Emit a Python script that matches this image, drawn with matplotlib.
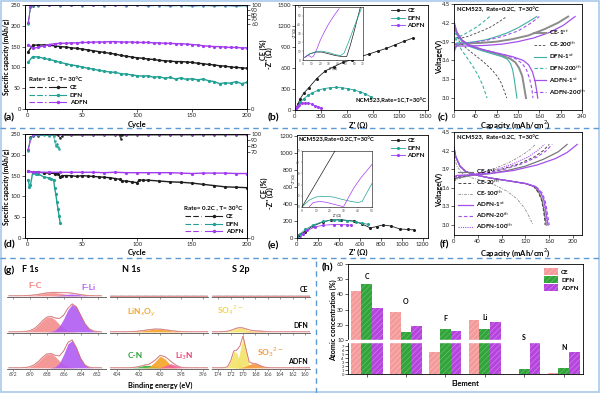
import numpy as np
import matplotlib
matplotlib.use('Agg')
import matplotlib.pyplot as plt
from matplotlib.lines import Line2D
from matplotlib.patches import Patch, Rectangle
from matplotlib.legend_handler import HandlerTuple

plt.rcParams['font.family'] = ['Lato', 'DejaVu Sans']
plt.rcParams['mathtext.fontset'] = 'dejavusans'
plt.rcParams['hatch.linewidth'] = 0.4
plt.rcParams['axes.linewidth'] = 0.6

W, H = 600, 393
BLACK, TEAL, PURPLE = '#1e1e1e', '#22a195', '#a33cf0'

# ---------------- (a) cycling, 1C ----------------
cyc_a = [1] + list(range(5, 201, 5))
cap_a_ce = [138, 153, 154, 154, 153, 152, 150, 149, 147, 146, 144, 142, 140, 138, 136, 134, 132,
            129, 127, 125, 123, 122, 120, 119, 117, 116, 115, 114, 114, 113, 112, 110, 109, 107,
            106, 104, 103, 101, 100, 99, 98]
cap_a_dfn = [113, 126, 125, 122, 119, 116, 112, 109, 106, 104, 101, 98, 96, 93, 91, 89, 88, 85,
             84, 82, 80, 79, 80, 76, 78, 74, 76, 72, 75, 71, 73, 70, 72, 68, 66, 61, 63, 62, 66,
             61, 64]
cap_a_adfn = [155, 146, 148, 152, 155, 157, 158, 158, 159, 159, 160, 160, 161, 161, 161, 162, 162,
              161, 161, 161, 160, 160, 160, 159, 159, 158, 158, 157, 157, 156, 155, 154, 152, 151,
              150, 150, 149, 148, 148, 147, 147]
cyc_ce_a = [1, 3, 5] + list(range(10, 201, 10))
ce_a_ce = [62, 96, 98.5, 99.0, 99.2, 99.3, 99.2, 99.4, 99.3, 99.4, 99.3, 99.5, 99.4, 99.3, 99.5,
           99.4, 99.5, 99.4, 99.5, 99.4, 99.5, 99.4, 99.5]
ce_a_dfn = [60, 95, 98, 98.8, 99.0, 98.7, 99.1, 98.8, 99.2, 98.7, 99.0, 98.5, 99.2, 98.0, 98.9,
            97.6, 98.8, 97.2, 98.6, 97.5, 98.4, 97.0, 98.2]
ce_a_adfn = [64, 97, 99.2, 99.6, 99.7, 99.7, 99.8, 99.7, 99.8, 99.8, 99.7, 99.8, 99.8, 99.7, 99.8,
             99.8, 99.7, 99.8, 99.8, 99.7, 99.8, 99.8, 99.8]

# ---------------- (d) cycling, 0.2C ----------------
cyc_d_ce = [1, 5, 10, 15, 20, 25, 28, 30, 32, 35, 40, 45, 50, 55, 60, 65, 70, 75, 80, 84, 86, 90,
            95, 100, 102, 105, 110, 120, 130, 140, 150, 160, 170, 180, 190, 200]
cap_d_ce = [160, 159, 158, 157, 156, 155, 154, 147, 150, 150, 150, 148, 150, 149, 148, 147, 146,
            145, 143, 141, 137, 137, 135, 133, 140, 139, 139, 137, 135, 134, 132, 129, 126, 123,
            122, 121]
cyc_d_dfn = [1, 2, 3, 5, 8, 10, 15, 20, 22, 24, 25, 26, 27, 28, 29, 30]
cap_d_dfn = [140, 122, 128, 157, 155, 154, 147, 144, 142, 140, 120, 106, 87, 70, 53, 36]
cyc_d_adfn = [1, 5] + list(range(10, 201, 10))
cap_d_adfn = [160, 159, 158, 158, 158, 158, 158, 158, 157, 158, 157, 157, 157, 157, 157, 156, 155,
              156, 156, 156, 155, 155]
cyc_ce_d_ce = [1, 3, 5, 10, 20, 28, 30, 32, 40, 50, 60, 70, 80, 84, 85, 86, 90, 100, 110, 120, 130,
               140, 150, 160, 170, 180, 190, 200]
ce_d_ce = [74, 95, 97, 97.4, 97.6, 97.7, 93, 97.5, 97.7, 97.8, 97.9, 97.9, 98, 97.8, 92, 97.6,
           97.9, 98, 98.1, 98.1, 98.2, 98.2, 98.2, 98.3, 98.3, 98.3, 98.4, 98.4]
cyc_ce_d_dfn = [1, 3, 5, 10, 15, 20, 24, 25, 26, 27, 28, 29]
ce_d_dfn = [72, 94, 97, 97.6, 97.7, 97.5, 97.2, 88, 80, 84, 79, 76]
ce_d_adfn = [76, 98.5, 99.3, 99.5, 99.6, 99.6, 99.6, 99.7, 99.6, 99.7, 99.7, 99.6, 99.7, 99.7,
             99.7, 99.6, 99.7, 99.7, 99.7, 99.7, 99.7, 99.7]

# ---------------- (b) EIS 1C ----------------
zre_b_ce = [5, 30, 60, 100, 160, 250, 350, 450, 550, 650, 750, 850, 950, 1050, 1150, 1250, 1360]
zim_b_ce = [0, 80, 160, 240, 320, 450, 560, 620, 680, 720, 760, 800, 840, 880, 930, 980, 1030]
zre_b_dfn = [10, 30, 60, 100, 150, 200, 260, 330, 400, 470, 540, 610, 680, 750, 810, 870]
zim_b_dfn = [0, 60, 110, 160, 210, 245, 280, 305, 318, 322, 318, 305, 285, 260, 230, 190]
zre_b_adfn = [10, 25, 50, 80, 110, 150, 190, 230, 270, 300]
zim_b_adfn = [0, 40, 75, 95, 102, 100, 85, 62, 40, 28]
inb_ce_x = [2, 8, 15, 22, 30, 38, 45, 51, 55, 59, 63, 67]
inb_ce_y = [3, 7, 9, 9, 7, 5, 4, 4, 16, 30, 45, 60]
inb_dfn_x = [2, 8, 15, 22, 30, 38, 44, 48, 53, 58, 63, 68]
inb_dfn_y = [3, 7, 9.5, 10, 8.5, 6, 5, 8, 20, 33, 46, 58]
inb_adfn_x = [2, 5, 8, 10, 12, 16, 20, 25, 30, 36, 42]
inb_adfn_y = [3, 5, 4.5, 3, 4, 12, 22, 32, 41, 50, 58]

# ---------------- (e) EIS 0.2C ----------------
zre_e_ce = [0, 20, 74, 150, 250, 325, 420, 540, 620, 700, 760, 820, 900, 980, 1060, 1120]
zim_e_ce = [0, 35, 75, 140, 190, 212, 214, 200, 165, 118, 135, 153, 140, 106, 100, 95]
zre_e_dfn = [0, 30, 80, 150, 250, 350, 400, 480, 560, 620, 680]
zim_e_dfn = [0, 50, 100, 150, 195, 212, 214, 205, 190, 175, 160]
zre_e_adfn = [30, 60, 100, 170, 250, 350, 420, 480, 520]
zim_e_adfn = [0, 50, 90, 130, 150, 158, 158, 155, 150]
ine_ce_x = [0, 8, 16, 24]
ine_ce_y = [0, 17, 34, 51]
ine_dfn_x = [0, 5, 10, 16, 22, 28, 35, 40, 43, 46, 50]
ine_dfn_y = [0, 6, 9, 9.5, 9, 7, 5, 4, 5, 12, 21]
ine_adfn_x = [5, 8, 13, 18, 24, 29, 30, 33, 37, 42, 50]
ine_adfn_y = [0, 4, 5, 4, 2, 0.5, 1, 8, 17, 26, 38]

# ---------------- (c) charge / discharge ----------------
c_ce1_dq = [0, 5, 15, 30, 50, 70, 90, 105, 115, 122, 128, 132, 135]
c_ce1_dv = [4.2, 4.05, 3.92, 3.84, 3.78, 3.73, 3.68, 3.63, 3.57, 3.48, 3.35, 3.15, 3.0]
c_ce1_cq = [0, 5, 20, 50, 80, 110, 140, 170, 195, 214]
c_ce1_cv = [3.75, 3.85, 3.87, 3.88, 3.9, 3.94, 4.0, 4.1, 4.2, 4.3]
c_ce200_dq = [0, 10, 25, 40, 55, 70, 80, 88, 94, 99]
c_ce200_dv = [4.1, 3.9, 3.78, 3.68, 3.58, 3.46, 3.36, 3.25, 3.12, 3.0]
c_ce200_cq = [0, 10, 25, 40, 55, 70, 85, 99]
c_ce200_cv = [3.92, 3.95, 3.98, 4.03, 4.08, 4.14, 4.22, 4.3]
c_dfn1_dq = [0, 5, 15, 30, 50, 70, 90, 100, 106, 110, 113, 116, 118]
c_dfn1_dv = [4.2, 4.02, 3.9, 3.82, 3.76, 3.71, 3.66, 3.62, 3.55, 3.45, 3.3, 3.12, 3.0]
c_dfn1_cq = [0, 5, 20, 40, 60, 80, 100, 120, 140, 155]
c_dfn1_cv = [3.85, 3.88, 3.88, 3.9, 3.93, 3.98, 4.04, 4.12, 4.22, 4.3]
c_dfn200_dq = [0, 8, 18, 28, 38, 46, 53, 58, 62]
c_dfn200_dv = [4.05, 3.85, 3.72, 3.6, 3.47, 3.35, 3.22, 3.1, 3.0]
c_dfn200_cq = [0, 10, 20, 30, 40, 50, 60, 67]
c_dfn200_cv = [3.95, 3.98, 4.02, 4.07, 4.12, 4.18, 4.25, 4.3]
c_adfn1_dq = [0, 5, 15, 30, 50, 70, 90, 110, 130, 140, 147, 152, 155, 157]
c_adfn1_dv = [4.2, 4.05, 3.92, 3.84, 3.78, 3.74, 3.7, 3.66, 3.6, 3.53, 3.42, 3.27, 3.12, 3.0]
c_adfn1_cq = [0, 5, 30, 60, 90, 120, 150, 180, 205, 227]
c_adfn1_cv = [3.8, 3.83, 3.83, 3.84, 3.86, 3.9, 3.96, 4.05, 4.16, 4.3]
c_adfn200_dq = [0, 10, 25, 45, 70, 95, 115, 128, 136, 142, 146, 148]
c_adfn200_dv = [4.15, 3.95, 3.85, 3.79, 3.74, 3.69, 3.63, 3.55, 3.45, 3.3, 3.15, 3.0]
c_adfn200_cq = [0, 10, 30, 60, 90, 120, 145, 160]
c_adfn200_cv = [3.85, 3.87, 3.88, 3.92, 3.98, 4.07, 4.2, 4.3]

# ---------------- (f) charge / discharge ----------------
f_dv = [4.25, 4.1, 3.95, 3.86, 3.8, 3.76, 3.73, 3.7, 3.67, 3.62, 3.52, 3.4, 3.25, 3.12, 3.0]
f_ce1_dq = [0, 3, 10, 20, 40, 60, 80, 100, 120, 135, 143, 148, 151, 153, 155]
f_ce20_dq = [0, 3, 10, 20, 40, 60, 80, 100, 120, 134, 142, 147, 150, 152, 153]
f_adfn1_dq = [0, 3, 10, 20, 40, 60, 80, 100, 120, 137, 146, 151, 154, 156, 158]
f_adfn20_dq = [0, 3, 10, 20, 40, 60, 80, 100, 120, 138, 148, 153, 156, 158, 160]
f_adfn100_dq = [0, 3, 10, 20, 40, 60, 80, 100, 120, 137, 146, 151, 153, 155, 157]
f_ce100_dq = [0, 5, 15, 30, 50, 70, 90, 106, 118, 126, 133]
f_ce100_dv = [4.1, 3.95, 3.82, 3.76, 3.71, 3.64, 3.54, 3.42, 3.28, 3.14, 3.0]
f_ce1_cq = [0, 5, 30, 60, 90, 120, 150, 175, 190]
f_ce1_cv = [3.72, 3.76, 3.8, 3.83, 3.88, 3.95, 4.06, 4.18, 4.3]
f_ce20_cq = [0, 5, 25, 50, 80, 110, 135, 150, 160]
f_ce20_cv = [3.74, 3.77, 3.8, 3.84, 3.9, 3.99, 4.1, 4.2, 4.3]
f_ce100_cq = [0, 5, 20, 45, 70, 95, 115, 128, 137]
f_ce100_cv = [3.7, 3.74, 3.78, 3.84, 3.92, 4.02, 4.13, 4.22, 4.3]
f_adfn1_cq = [0, 5, 30, 60, 100, 140, 170, 190, 207]
f_adfn1_cv = [3.78, 3.8, 3.81, 3.83, 3.88, 3.97, 4.07, 4.17, 4.3]
f_adfn20_cq = [0, 5, 25, 55, 85, 115, 140, 155, 165]
f_adfn20_cv = [3.77, 3.79, 3.8, 3.84, 3.9, 3.99, 4.1, 4.2, 4.3]
f_adfn100_cq = [0, 5, 20, 45, 75, 100, 125, 140, 152]
f_adfn100_cv = [3.76, 3.78, 3.8, 3.84, 3.91, 3.99, 4.1, 4.2, 4.3]

# ---------------- (g) XPS ----------------
be_f = [692.5, 692, 691.5, 691, 690.5, 690, 689.5, 689, 688.5, 688, 687.5, 687, 686.5, 686,
        685.5, 685, 684.5, 684, 683.5, 683, 682.5, 682, 681.5]
fc_ce = [0, 0, 0, 0.002, 0.005, 0.014, 0.029, 0.05, 0.078, 0.104, 0.119, 0.117, 0.099, 0.073,
         0.046, 0.026, 0.012, 0.005, 0, 0, 0, 0, 0]
fli_ce = [0] * 11 + [0.006, 0.018, 0.038, 0.06, 0.07, 0.06, 0.038, 0.018, 0.006, 0.001, 0, 0]
fc_dfn = [0, 0, 0, 0.002, 0.011, 0.039, 0.109, 0.237, 0.4, 0.526, 0.539, 0.43, 0.268, 0.13,
          0.049, 0.014, 0.003, 0.001, 0, 0, 0, 0, 0]
fli_dfn = [0] * 10 + [0.015, 0.066, 0.21, 0.47, 0.8, 0.99, 0.9, 0.6, 0.3, 0.11, 0.03, 0.005, 0]
fc_adfn = [0, 0, 0, 0.002, 0.01, 0.037, 0.103, 0.224, 0.378, 0.497, 0.51, 0.407, 0.253, 0.123,
           0.046, 0.013, 0.003, 0.001, 0, 0, 0, 0, 0]
fli_adfn = [0] * 10 + [0.006, 0.04, 0.175, 0.487, 0.868, 0.991, 0.726, 0.341, 0.103, 0.02,
                       0.002, 0, 0]
be_n = [405, 404.5, 404, 403.5, 403, 402.5, 402, 401.5, 401, 400.5, 400, 399.5, 399, 398.5, 398,
        397.5, 397, 396.5, 396, 395.5]
lno_dfn = [0, 0, 0, 0, 0.003, 0.009, 0.024, 0.049, 0.078, 0.098, 0.096, 0.073, 0.043, 0.02,
           0.007, 0.002, 0, 0, 0, 0]
cn_adfn = [0, 0, 0, 0, 0.001, 0.01, 0.041, 0.088, 0.095, 0.051, 0.014, 0.002, 0, 0, 0, 0, 0, 0,
           0, 0]
lno_adfn = [0] * 7 + [0.003, 0.038, 0.209, 0.421, 0.312, 0.085, 0.009, 0, 0, 0, 0, 0, 0]
li3n_adfn = [0] * 9 + [0.001, 0.013, 0.081, 0.15, 0.081, 0.013, 0.001, 0, 0, 0, 0]
be_s = [175, 174.5, 174, 173.5, 173, 172.5, 172, 171.5, 171, 170.5, 170, 169.5, 169, 168.5, 168,
        167.5, 167, 166.5, 166, 165.5, 165, 164.5, 164, 163.5, 163, 162.5, 162, 161.5, 161,
        160.5, 160, 159.5, 159]
so4_dfn = [0, 0, 0, 0.002, 0.007, 0.02, 0.049, 0.091, 0.132, 0.15, 0.132, 0.091, 0.049, 0.02,
           0.007, 0.002] + [0] * 17
so3_dfn = [0] * 10 + [0.005, 0.012, 0.021, 0.028, 0.03, 0.028, 0.021, 0.012, 0.005] + [0] * 14
so4a_adfn = [0] * 7 + [0.004, 0.094, 0.593, 1.1, 0.593, 0.094, 0.004] + [0] * 19
so4b_adfn = [0] * 4 + [0.002, 0.036, 0.244, 0.6, 0.543, 0.181, 0.022, 0.001] + [0] * 21
so3_adfn = [0] * 8 + [0.002, 0.008, 0.027, 0.066, 0.118, 0.156, 0.151, 0.108, 0.056, 0.022,
                      0.006, 0.001] + [0] * 13

# ---------------- (h) atomic concentration ----------------
elements = ['C', 'O', 'F', 'Li', 'S', 'N']
at_ce = [42.5, 28.5, 5.5, 23, 0.1, 0.2]
at_dfn = [47, 15.3, 17.2, 17.2, 1.2, 1.5]
at_adfn = [31, 19.3, 16, 21.8, 7.7, 5.5]
label_y = [52, 35, 24, 25, 11.5, 6.5]

# ======================================================
fig = plt.figure(figsize=(6, 3.93), dpi=100)


def box(x0, y0, x1, y1):
    return [x0 / W, 1 - y1 / H, (x1 - x0) / W, (y1 - y0) / H]


def put(x, y, s, size=5.5, weight='bold', **kw):
    kw.setdefault('ha', 'center')
    kw.setdefault('va', 'center')
    fig.text(x / W, 1 - y / H, s, fontsize=size, fontweight=weight, **kw)


def style(ax, size=4.2, length=2):
    ax.tick_params(labelsize=size, length=length, width=0.5, pad=1, colors='#222222')


def piece(xs, ys):
    xs = np.asarray(xs, float)
    ys = np.asarray(ys, float)
    f = lambda v: np.interp(np.asarray(v, float), xs, ys)
    g = lambda u: np.interp(np.asarray(u, float), ys, xs)
    return f, g


bold = {'weight': 'bold', 'size': 4.5}


def cycle_panel(ax, series, ce_series, ce_scale, ticks_r, title, loc, anchor):
    for x, q, c in series:
        ax.plot(x, q, color=c, marker='o', ms=1.3, lw=1.0)
    ax.set_xlim(-2, 200)
    ax.set_ylim(0, 250)
    ax.set_xticks([0, 50, 100, 150, 200])
    ax.set_yticks(range(0, 251, 50))
    style(ax)
    ax2 = ax.twinx()
    ax2.set_yscale('function', functions=ce_scale)
    for x, ce, c in ce_series:
        ax2.plot(x, ce, color=c, marker='o', ms=0.9, lw=0.6, alpha=0.85)
    ax2.set_ylim(0, 100)
    ax2.set_yticks(ticks_r)
    style(ax2)
    hs = [(Line2D([], [], color=c, ls=(0, (5, 2)), lw=0.8),
           Line2D([], [], color=c, marker='o', ms=1.5, lw=0.8)) for c in (BLACK, TEAL, PURPLE)]
    ax.legend(hs, ['CE', 'DFN', 'ADFN'], handler_map={tuple: HandlerTuple(ndivide=None, pad=0.6)},
              loc=loc, bbox_to_anchor=anchor, frameon=False, prop=bold, handlelength=6,
              title=title, title_fontproperties=bold, alignment='left', labelspacing=0.35,
              borderaxespad=0.2, handletextpad=0.6)


# (a)
axa = fig.add_axes(box(25, 5, 247, 109))
cycle_panel(axa, [(cyc_a, cap_a_ce, BLACK), (cyc_a, cap_a_dfn, TEAL), (cyc_a, cap_a_adfn, PURPLE)],
            [(cyc_ce_a, ce_a_ce, BLACK), (cyc_ce_a, ce_a_dfn, TEAL), (cyc_ce_a, ce_a_adfn, PURPLE)],
            piece([-100, 0, 60, 100, 200], [-140, 0, 84, 103, 150.5]), [0, 60, 70, 80, 90, 100],
            'Rate= 1C , T= 30°C', 'lower left', (0.0, 0.0))
# (d)
axd = fig.add_axes(box(25, 134, 247, 238))
cycle_panel(axd, [(cyc_d_ce, cap_d_ce, BLACK), (cyc_d_dfn, cap_d_dfn, TEAL),
                  (cyc_d_adfn, cap_d_adfn, PURPLE)],
            [(cyc_ce_d_ce, ce_d_ce, BLACK), (cyc_ce_d_dfn, ce_d_dfn, TEAL),
             (cyc_d_adfn, ce_d_adfn, PURPLE)],
            piece([-100, 0, 70, 100, 200], [-121, 0, 85, 103, 163]), [0, 70, 80, 90, 100],
            'Rate= 0.2C , T= 30°C', 'lower right', (1.0, 0.0))


def eis_panel(ax, data, xlim, ylim, ticks_x, ticks_y, note, note_xy, note_ha):
    for x, y, c in data:
        ax.plot(x, y, color=c, marker='o', ms=1.2, lw=0.6)
    ax.set_xlim(*xlim)
    ax.set_ylim(*ylim)
    ax.set_xticks(ticks_x)
    ax.set_yticks(ticks_y)
    style(ax)
    hs = [Line2D([], [], color=c, marker='o', ms=1.3, lw=0.6) for c in (BLACK, TEAL, PURPLE)]
    ax.legend(hs, ['CE', 'DFN', 'ADFN'], loc='upper right', frameon=False, prop=bold,
              handlelength=2.2, labelspacing=0.3, borderaxespad=0.1, handletextpad=0.4)
    ax.text(note_xy[0], note_xy[1], note, transform=ax.transAxes, fontsize=4.3,
            fontweight='bold', ha=note_ha, va='center')


def inset(rect, data, lim):
    ax = fig.add_axes(box(*rect))
    top = 60 if lim == 70 else 50
    for x, y, c in data:
        ax.plot(x, y, color=c, lw=0.5)
    ax.set_xlim(0, lim)
    ax.set_ylim(0, top)
    ax.set_xticks(range(0, lim + 1, 10))
    ax.set_yticks(range(0, top + 1, 10))
    ax.tick_params(labelsize=2.2, length=1, width=0.3, pad=0.5, colors='#444444')
    for s in ax.spines.values():
        s.set_linewidth(0.4)
    ax.set_xlabel("Z' (Ω)", fontsize=2.3, labelpad=0.5)
    ax.set_ylabel("-Z'' (Ω)", fontsize=2.3, labelpad=0.5)


# (b)
axb = fig.add_axes(box(295, 5, 428, 110))
eis_panel(axb, [(zre_b_ce, zim_b_ce, BLACK), (zre_b_dfn, zim_b_dfn, TEAL),
                (zre_b_adfn, zim_b_adfn, PURPLE)],
          (0, 1530), (0, 1500), range(0, 1501, 300), range(0, 1501, 300),
          'NCM523,Rate=1C,T=30°C', (0.99, 0.09), 'right')
inset((303, 7, 363, 60), [(inb_ce_x, inb_ce_y, BLACK), (inb_dfn_x, inb_dfn_y, TEAL),
                          (inb_adfn_x, inb_adfn_y, PURPLE)], 70)
# (e)
axe = fig.add_axes(box(297, 135, 428, 238))
eis_panel(axe, [(zre_e_ce, zim_e_ce, BLACK), (zre_e_dfn, zim_e_dfn, TEAL),
                (zre_e_adfn, zim_e_adfn, PURPLE)],
          (0, 1250), (0, 1210), range(0, 1201, 200), range(0, 1201, 200),
          'NCM523,Rate=0.2C,T=30°C', (0.01, 0.96), 'left')
inset((302, 151, 372, 207), [(ine_ce_x, ine_ce_y, BLACK), (ine_dfn_x, ine_dfn_y, TEAL),
                             (ine_adfn_x, ine_adfn_y, PURPLE)], 50)

# (c)
GRY, DGRY, TL, PU = '#8c8c8c', '#444444', '#3fb0a6', '#a450ea'
axc = fig.add_axes(box(454, 4, 582, 110))
c_curves = [
    ('CE-1$^{st}$', GRY, '-', 1.4, c_ce1_dq, c_ce1_dv, c_ce1_cq, c_ce1_cv),
    ('CE-200$^{th}$', DGRY, (0, (3, 2)), 0.6, c_ce200_dq, c_ce200_dv, c_ce200_cq, c_ce200_cv),
    ('DFN-1$^{st}$', TL, '-', 0.8, c_dfn1_dq, c_dfn1_dv, c_dfn1_cq, c_dfn1_cv),
    ('DFN-200$^{th}$', TL, (0, (3, 2)), 0.8, c_dfn200_dq, c_dfn200_dv, c_dfn200_cq, c_dfn200_cv),
    ('ADFN-1$^{st}$', PU, '-', 0.9, c_adfn1_dq, c_adfn1_dv, c_adfn1_cq, c_adfn1_cv),
    ('ADFN-200$^{th}$', PU, (0, (3, 2)), 0.8, c_adfn200_dq, c_adfn200_dv, c_adfn200_cq,
     c_adfn200_cv),
]
for lab, col, ls, lw, dq, dv, cq, cv in c_curves:
    axc.plot(dq, dv, color=col, ls=ls, lw=lw, label=lab)
    axc.plot(cq, cv, color=col, ls=ls, lw=lw)
axc.set_xlim(0, 240)
axc.set_ylim(2.81, 4.5)
axc.set_xticks(range(0, 241, 40))
axc.set_yticks([3.0, 3.3, 3.6, 3.9, 4.2, 4.5])
axc.yaxis.set_major_formatter('{x:.1f}')
style(axc)
axc.legend(loc='center left', bbox_to_anchor=(0.6, 0.45), frameon=False, prop=bold,
           handlelength=2.0, labelspacing=0.45, handletextpad=0.4, borderaxespad=0.1)
axc.text(0.02, 0.95, 'NCM523,  Rate=0.2C,  T=30°C', transform=axc.transAxes, fontsize=4.3,
         fontweight='bold', va='center')

# (f)
axf = fig.add_axes(box(454, 132, 582, 235))
f_curves = [
    ('CE-1$^{st}$', '#777777', '-', 0.9, f_ce1_dq, f_dv, f_ce1_cq, f_ce1_cv),
    ('CE-20$^{th}$', DGRY, (0, (3, 2)), 0.7, f_ce20_dq, f_dv, f_ce20_cq, f_ce20_cv),
    ('CE-100$^{th}$', '#888888', (0, (3, 1.5, 1, 1.5)), 0.6, f_ce100_dq, f_ce100_dv, f_ce100_cq,
     f_ce100_cv),
    ('ADFN-1$^{st}$', PU, '-', 0.9, f_adfn1_dq, f_dv, f_adfn1_cq, f_adfn1_cv),
    ('ADFN-20$^{th}$', PU, (0, (3, 2)), 0.8, f_adfn20_dq, f_dv, f_adfn20_cq, f_adfn20_cv),
    ('ADFN-100$^{th}$', PU, (0, (1, 1)), 0.8, f_adfn100_dq, f_dv, f_adfn100_cq, f_adfn100_cv),
]
for lab, col, ls, lw, dq, dv, cq, cv in f_curves:
    axf.plot(dq, dv, color=col, ls=ls, lw=lw, label=lab)
    axf.plot(cq, cv, color=col, ls=ls, lw=lw)
axf.set_xlim(0, 215)
axf.set_ylim(2.84, 4.5)
axf.set_xticks(range(0, 201, 40))
axf.set_yticks([3.0, 3.3, 3.6, 3.9, 4.2, 4.5])
axf.yaxis.set_major_formatter('{x:.1f}')
style(axf)
axf.legend(loc='lower left', bbox_to_anchor=(0.0, 0.0), frameon=False, prop=bold,
           handlelength=2.4, labelspacing=0.3, handletextpad=0.5, borderaxespad=0.2)
axf.text(0.02, 0.95, 'NCM523,  Rate=0.2C,  T=30°C', transform=axf.transAxes, fontsize=4.3,
         fontweight='bold', va='center')

# (g) XPS
PINK, FPUR, ORNG, GRN, LIR, YEL, SO3C = ('#f28c8c', '#b15cf2', '#f5a324', '#3bb043',
                                         '#f2609a', '#f3e36a', '#f5963a')
cols = [(7, 106, (692.7, 681.0), be_f, 2, 0.5),
        (110, 208, (404.7, 395.5), be_n, 2, 0.5),
        (212, 310, (175.0, 159.2), be_s, 2, 1)]
rows = [(264, 297), (300, 333), (336, 369)]
comps = [
    [[(fc_ce, PINK), (fli_ce, FPUR)], [(fc_dfn, PINK), (fli_dfn, FPUR)],
     [(fc_adfn, PINK), (fli_adfn, FPUR)]],
    [[], [(lno_dfn, ORNG)], [(cn_adfn, GRN), (lno_adfn, ORNG), (li3n_adfn, LIR)]],
    [[], [(so4_dfn, YEL), (so3_dfn, SO3C)], [(so4a_adfn, YEL), (so4b_adfn, YEL), (so3_adfn, SO3C)]],
]
for ci, (x0, x1, lims, be, maj, mnr) in enumerate(cols):
    for ri, (y0, y1) in enumerate(rows):
        ax = fig.add_axes(box(x0, y0, x1, y1))
        ax.patch.set_alpha(0)
        env = np.zeros(len(be))
        for vals, col in comps[ci][ri]:
            ax.fill_between(be, 0, vals, color=col, alpha=0.9, lw=0)
            env = env + np.asarray(vals)
        ax.plot(be, env + 0.015, color='#9a7070', lw=0.4, ls=(0, (1, 0.6)))
        ax.plot(be, env, color='#e06868', lw=0.5)
        ax.set_xlim(*lims)
        ax.set_ylim(-0.04, 1.15)
        for s in ('left', 'right', 'top'):
            ax.spines[s].set_visible(False)
        ax.spines['bottom'].set_color('#555555')
        ax.set_yticks([])
        ax.xaxis.set_major_locator(plt.MultipleLocator(maj))
        ax.xaxis.set_minor_locator(plt.MultipleLocator(mnr))
        ax.tick_params(axis='x', labelsize=3.5, length=1.6, width=0.4, pad=0.8,
                       colors='#444444', labelbottom=(ri == 2))
        ax.tick_params(axis='x', which='minor', length=0.9, width=0.3, colors='#666666')

put(22, 270, 'F 1s', size=6.5, ha='left')
put(122, 270, 'N 1s', size=6.5, ha='left')
put(232, 270, 'S 2p', size=6.5, ha='left')
put(35, 285, 'F-C', size=6, color='#f07a7a')
put(88, 287, 'F-Li', size=6, color=FPUR)
put(142, 313, 'LiN$_x$O$_y$', size=6, color=ORNG)
put(135, 355, 'C-N', size=6, color='#2e9e3a')
put(184, 356, 'Li$_3$N', size=6, color='#ee3f72')
put(230, 310, 'SO$_4$$^{2-}$', size=6, color='#efd34a')
put(270, 352, 'SO$_3$$^{2-}$', size=6, color=SO3C)
put(308, 290, 'CE', size=5, ha='right')
put(308, 326, 'DFN', size=5, ha='right')
put(308, 362, 'ADFN', size=5, ha='right')
put(160, 385, 'Binding energy (eV)', size=5.3)

# (h)
axh = fig.add_axes(box(348, 264, 583, 374))
axh.set_yscale('function', functions=piece([-100, 0, 8, 10, 60, 1000],
                                           [-400, 0, 32, 34, 110, 1539]))
xpos = np.arange(len(elements))
bw = 0.27
for off, vals, col, hc, lab in [(-bw, at_ce, '#f59a9a', '#fbc4c4', 'CE'),
                                (0, at_dfn, '#33a33c', '#6cc874', 'DFN'),
                                (bw, at_adfn, '#b545dc', '#d68af0', 'ADFN')]:
    axh.bar(xpos + off, vals, bw, color=col, edgecolor=hc, hatch='//////', lw=0, label=lab)
axh.axhspan(8.1, 9.9, color='white', zorder=3)
axh.set_xlim(-0.47, 5.49)
axh.set_ylim(0, 60)
axh.set_yticks([0, 1, 2, 3, 4, 5, 6, 7, 10, 20, 30, 40, 50, 60])
axh.set_xticks(xpos)
axh.set_xticklabels([])
for i, el in enumerate(elements):
    axh.text(xpos[i], label_y[i], el, fontsize=5, fontweight='bold', ha='center', va='center')
style(axh)
for lbl in axh.get_yticklabels():
    if lbl.get_text() in [str(v) for v in range(8)]:
        lbl.set_fontsize(3)
axh.legend(loc='upper right', frameon=False, prop=bold, handlelength=2.2, handleheight=1.2,
           labelspacing=0.25, borderaxespad=0.3, handletextpad=0.5)

# axis labels
put(6, 57, 'Specific capacity (mAh/g)', size=4.9, rotation=90)
put(6, 187, 'Specific capacity (mAh/g)', size=4.9, rotation=90)
put(263, 50, 'CE (%)', size=5.2, rotation=90)
put(269, 58, "-Z'' (Ω)", size=5.2, rotation=90)
put(264, 188, 'CE (%)', size=5.2, rotation=90)
put(270, 198, "-Z'' (Ω)", size=5.2, rotation=90)
put(439, 57, 'Voltage(V)', size=5.2, rotation=90)
put(439, 190, 'Voltage(V)', size=5.2, rotation=90)
put(137, 125, 'Cycle', size=5.5)
put(137, 253, 'Cycle', size=5.5)
put(358, 125, "Z' (Ω)", size=5.5)
put(358, 252, "Z' (Ω)", size=5.5)
put(515, 125, 'Capacity (mAh/cm$^2$)', size=5.5)
put(515, 253, 'Capacity (mAh/cm$^2$)', size=5.5)
put(333, 320, 'Atomic concentration (%)', size=5.2, rotation=90)
put(465, 384, 'Element', size=5.5)

# panel letters
for s, x, y in [('(a)', 4, 118), ('(b)', 268, 118), ('(c)', 438, 118), ('(d)', 4, 245),
                ('(e)', 268, 246), ('(f)', 440, 245), ('(g)', 4, 270), ('(h)', 322, 268)]:
    put(x, y, s, size=7.5, ha='left')

# separators and frame
dash = dict(transform=fig.transFigure, color='#5b9bd5', lw=1.0, ls=(0, (4, 3)))
fig.add_artist(Line2D([0, 1], [1 - 128 / H] * 2, **dash))
fig.add_artist(Line2D([0, 1], [1 - 258 / H] * 2, **dash))
fig.add_artist(Line2D([316 / W] * 2, [0, 1 - 258 / H], **dash))
fig.add_artist(Rectangle((0.002, 0.003), 0.996, 0.994, transform=fig.transFigure, fill=False,
                         ec='#a9c9ea', lw=1.2))

fig.savefig('out.png', dpi=100)
